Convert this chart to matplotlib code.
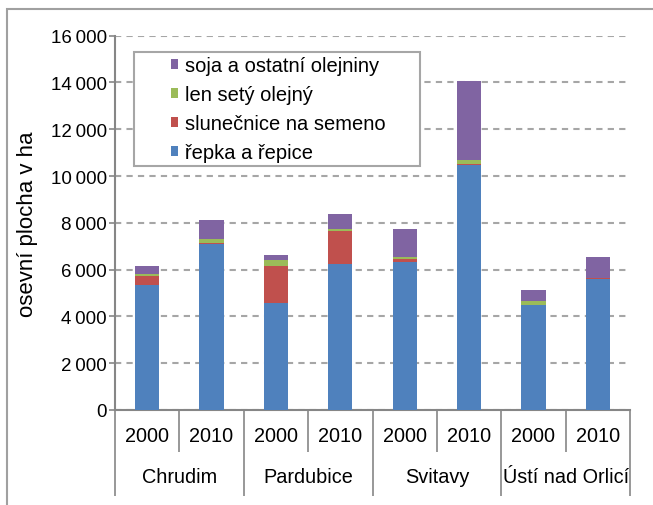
import matplotlib.pyplot as plt
import numpy as np
from matplotlib.patches import Patch, Rectangle
from matplotlib.ticker import FixedLocator, FuncFormatter

plt.rcParams["font.family"] = ["Liberation Sans", "DejaVu Sans"]

# data (ha)
districts = ["Chrudim", "Pardubice", "Svitavy", "Ústí nad Orlicí"]
years = ["2000", "2010"]
repka = [5340, 7080, 4580, 6230, 6310, 10480, 4490, 5620]
slunecnice = [390, 70, 1560, 1420, 140, 30, 10, 10]
len_ = [100, 180, 260, 100, 90, 180, 160, 30]
soja = [320, 780, 210, 610, 1190, 3380, 450, 900]

series = [
    ("řepka a řepice", repka, "#4F81BD"),
    ("slunečnice na semeno", slunecnice, "#C0504D"),
    ("len setý olejný", len_, "#9BBB59"),
    ("soja a ostatní olejniny", soja, "#8064A2"),
]

W, H = 653, 506
fig = plt.figure(figsize=(W / 100, H / 100), dpi=100)
ax = fig.add_axes([115 / W, 1 - 411 / H, 515 / W, 374.3 / H])

axis_col = "#868686"
x = np.arange(len(repka))
bottom = np.zeros(len(repka))
handles = []
for name, vals, col in series:
    ax.bar(x, vals, width=0.375, bottom=bottom, color=col, edgecolor="none", zorder=3)
    bottom += np.array(vals)
    handles.append(Patch(facecolor=col, label=name))

ax.set_xlim(-0.5, len(repka) - 0.5)
ax.set_ylim(0, 16000)
ax.yaxis.set_major_locator(FixedLocator(np.arange(0, 16001, 2000)))
ax.yaxis.set_major_formatter(
    FuncFormatter(lambda v, p: f"{int(v):,}".replace(",", "\u2009"))
)
ax.grid(axis="y", color="#a6a6a6", lw=1.5, ls=(0, (3, 2.5)), zorder=1)
ax.tick_params(axis="y", length=4, width=1.2, color=axis_col, labelsize=13.5, pad=2)

for s in ["top", "right"]:
    ax.spines[s].set_visible(False)
for s in ["left", "bottom"]:
    ax.spines[s].set_color(axis_col)
    ax.spines[s].set_linewidth(1.5)

# two-level category axis
ax.xaxis.set_major_locator(FixedLocator(np.arange(-0.5, len(repka), 2)))
ax.xaxis.set_minor_locator(FixedLocator(np.arange(0.5, len(repka), 2)))
ax.tick_params(axis="x", which="major", length=62, width=1.2, color=axis_col,
               labelbottom=False)
ax.tick_params(axis="x", which="minor", length=30, width=1.2, color=axis_col,
               labelbottom=False)
xt = ax.get_xaxis_transform()
for i in x:
    ax.text(i, -26 / 374.3, years[i % 2], transform=xt, ha="center",
            va="center", fontsize=14.3)
for g, name in enumerate(districts):
    ax.text(2 * g + 0.5, -67 / 374.3, name, transform=xt, ha="center",
            va="center", fontsize=14.3)

ax.set_ylabel("osevní plocha v ha", fontsize=16)
ax.yaxis.set_label_coords(-77 / 515, 0.5)

# legend: frame drawn separately, entries placed inside it
ax.add_patch(Rectangle((134 / W, 1 - 167 / H), 286 / W, 114.3 / H,
                       transform=fig.transFigure, facecolor="white",
                       edgecolor="#a6a6a6", lw=1.5, zorder=4, clip_on=False))
leg = ax.legend(handles=handles[::-1], loc="upper left",
                bbox_to_anchor=(171 / W, 1 - 57 / H), bbox_transform=fig.transFigure,
                fontsize=14.5, frameon=False, handlelength=0.35,
                handleheight=0.35, handletextpad=0.35, labelspacing=0.5,
                borderpad=0, borderaxespad=0)
leg.set_zorder(5)

# outer chart frame
fig.patches.append(Rectangle((7 / W, -0.1), 1.1, 1.1 - 10 / H, transform=fig.transFigure,
                             fill=False, edgecolor="#a0a0a0", lw=1.5))

fig.savefig("out.png", dpi=100)
